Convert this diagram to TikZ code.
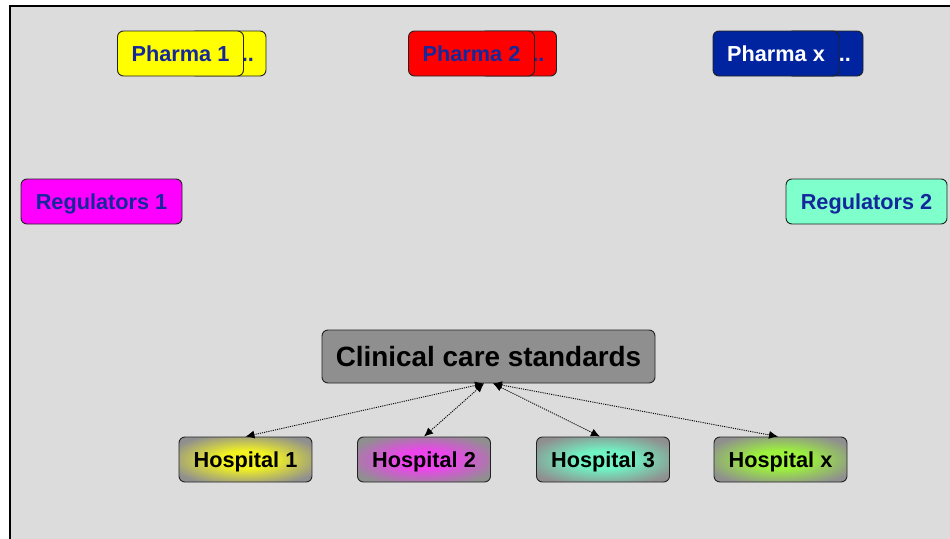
\documentclass[tikz,border=0pt]{standalone}
\usepackage{fontspec}
\setmainfont{Liberation Sans}
\usetikzlibrary{arrows.meta}

\definecolor{panel}{HTML}{DCDCDC}
\definecolor{edge}{HTML}{222222}
\definecolor{ink}{HTML}{14289C}
\definecolor{navy}{HTML}{0023A0}
\definecolor{lemon}{HTML}{FFFF00}
\definecolor{scarlet}{HTML}{FF0000}
\definecolor{fuchsia}{HTML}{FF00FF}
\definecolor{aqua}{HTML}{7FFFCC}
\definecolor{slate}{HTML}{8F8F8F}
\definecolor{glowY}{HTML}{F2F222}
\definecolor{glowM}{HTML}{EE44EE}
\definecolor{glowA}{HTML}{70F4C4}
\definecolor{glowG}{HTML}{9CF23C}

% radial glow concentrated round the label
\makeatletter
\pgfdeclareradialshading[tikz@radial@outer,tikz@radial@inner]{glow}{\pgfpointorigin}{%
  color(0bp)=(tikz@radial@inner); color(10bp)=(tikz@radial@inner);
  color(30bp)=(tikz@radial@outer); color(50bp)=(tikz@radial@outer)}
\makeatother

\tikzset{
  card/.style={draw=edge, line width=0.9pt, rounded corners=6pt,
    minimum height=45pt, inner sep=0pt, text height=15.5pt, text depth=0pt,
    font=\fontsize{21.7}{26}\selectfont\bfseries},
  pharma/.style={card, minimum width=126pt},
  pback/.style={card, text width=52pt, align=right, inner xsep=12pt},
  regul/.style={card, minimum width=161pt, text=ink},
  hosp/.style={card, minimum width=133pt, outer color=slate, inner color=#1, shading=glow},
  link/.style={line width=0.9pt, dash pattern=on 1.1pt off 1.1pt,
    {Latex[length=9pt,width=8pt]}-{Latex[length=9pt,width=8pt]}}
}

\begin{document}
\begin{tikzpicture}[x=1pt,y=-1pt]
\useasboundingbox (0,0) rectangle (950,538);
% panel with frame running off the right and bottom
\draw[fill=panel, line width=2pt] (10,6) rectangle (960,550);

% pharma stacks
\node[pback, fill=lemon, text=ink] (p1b) at (228,53.5) {..};
\node[pharma, fill=lemon, text=ink] (p1) at (180.5,53.5) {Pharma 1};
\node[pback, fill=scarlet, text=ink] (p2b) at (518.5,53.5) {..};
\node[pharma, fill=scarlet, text=ink] (p2) at (471.5,53.5) {Pharma 2};
\node[pback, fill=navy, text=white] (pxb) at (825,53.5) {..};
\node[pharma, fill=navy, text=white] (px) at (776,53.5) {Pharma x};

% regulators
\node[regul, fill=fuchsia] (r1) at (101.5,201.5) {Regulators 1};
\node[regul, fill=aqua] (r2) at (866.5,201.5) {Regulators 2};

% standards
\node[card, fill=slate, minimum width=333pt, minimum height=53pt,
  text height=20pt, font=\fontsize{27.9}{32}\selectfont\bfseries] (cs) at (488.5,356.5) {Clinical care standards};

% hospitals
\node[hosp=glowY] (h1) at (245.5,459.5) {Hospital 1};
\node[hosp=glowM] (h2) at (424,459.5) {Hospital 2};
\node[hosp=glowA] (h3) at (603,459.5) {Hospital 3};
\node[hosp=glowG] (hx) at (780.5,459.5) {Hospital x};

\coordinate (csl) at ([xshift=-4.5pt]cs.south);
\coordinate (csr) at ([xshift=4.5pt]cs.south);
\draw[link] (csl) -- (h1.north);
\draw[link] (csl) -- (h2.north);
\draw[link] (csr) -- ([xshift=-3pt]h3.north);
\draw[link] (csr) -- ([xshift=-2.5pt]hx.north);
\end{tikzpicture}
\end{document}
